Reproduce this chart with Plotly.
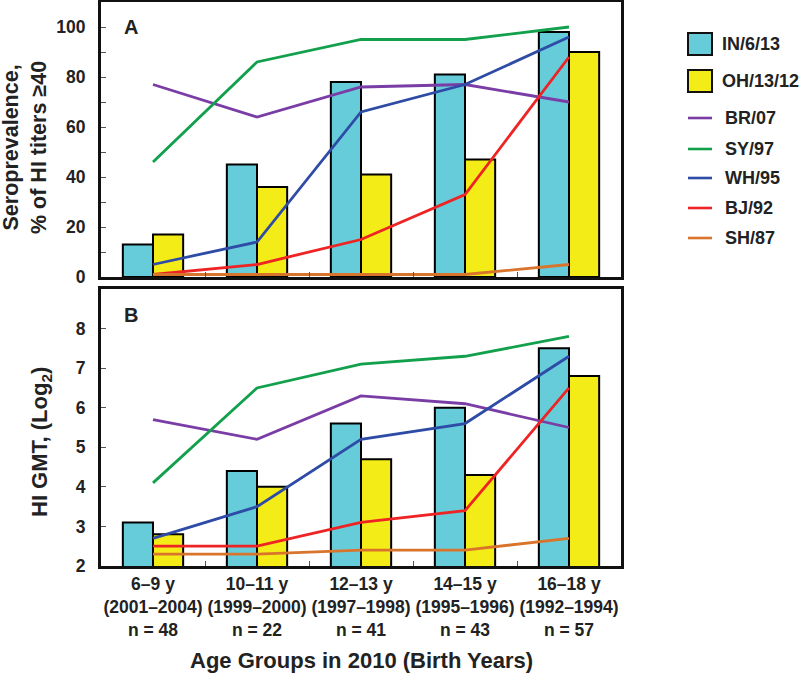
import plotly.graph_objects as go

# ---------------- data ----------------
age_groups = ["6–9 y", "10–11 y", "12–13 y", "14–15 y", "16–18 y"]
birth_years = ["(2001–2004)", "(1999–2000)", "(1997–1998)", "(1995–1996)", "(1992–1994)"]
n_values = [48, 22, 41, 43, 57]

bar_names = ["IN/6/13", "OH/13/12"]
sero_in613 = [13, 45, 78, 81, 98]
sero_oh1312 = [17, 36, 41, 47, 90]
gmt_in613 = [3.1, 4.4, 5.6, 6.0, 7.5]
gmt_oh1312 = [2.8, 4.0, 4.7, 4.3, 6.8]

line_names = ["BR/07", "SY/97", "WH/95", "BJ/92", "SH/87"]
sero_br07 = [77, 64, 76, 77, 70]
sero_sy97 = [46, 86, 95, 95, 100]
sero_wh95 = [5, 14, 66, 77, 96]
sero_bj92 = [1, 5, 15, 33, 88]
sero_sh87 = [1, 1, 1, 1, 5]
gmt_br07 = [5.7, 5.2, 6.3, 6.1, 5.5]
gmt_sy97 = [4.1, 6.5, 7.1, 7.3, 7.8]
gmt_wh95 = [2.7, 3.5, 5.2, 5.6, 7.3]
gmt_bj92 = [2.5, 2.5, 3.1, 3.4, 6.5]
gmt_sh87 = [2.3, 2.3, 2.4, 2.4, 2.7]

sero_ticks = [0, 20, 40, 60, 80, 100]
gmt_ticks = [2, 3, 4, 5, 6, 7, 8]

# ---------------- styles ----------------
W, H = 800, 678
FONT = "Liberation Sans, Arial, Helvetica, sans-serif"
bar_colors = ["#66CCDA", "#F4EC16"]
line_colors = ["#7A3DA6", "#12A04C", "#2E4CA6", "#EE2424", "#D9742C"]

cats = [f"{a}<br>{b}<br>n = {n}" for a, b, n in zip(age_groups, birth_years, n_values)]


def px_x(p):
    return p / W


def px_y(p):
    return 1 - p / H


fig = go.Figure()

sero_bars = [sero_in613, sero_oh1312]
gmt_bars = [gmt_in613, gmt_oh1312]
sero_lines = [sero_br07, sero_sy97, sero_wh95, sero_bj92, sero_sh87]
gmt_lines = [gmt_br07, gmt_sy97, gmt_wh95, gmt_bj92, gmt_sh87]

for name, vals, col in zip(bar_names, sero_bars, bar_colors):
    fig.add_trace(go.Bar(x=cats, y=vals, name=name, marker=dict(color=col, line=dict(color="black", width=2)),
                         xaxis="x", yaxis="y", offsetgroup=name))
for name, vals, col in zip(bar_names, gmt_bars, bar_colors):
    fig.add_trace(go.Bar(x=cats, y=vals, name=name, marker=dict(color=col, line=dict(color="black", width=2)),
                         xaxis="x2", yaxis="y2", offsetgroup=name))
for name, vals, col in zip(line_names, sero_lines, line_colors):
    fig.add_trace(go.Scatter(x=cats, y=vals, name=name, mode="lines", line=dict(color=col, width=2.8),
                             xaxis="x", yaxis="y"))
for name, vals, col in zip(line_names, gmt_lines, line_colors):
    fig.add_trace(go.Scatter(x=cats, y=vals, name=name, mode="lines", line=dict(color=col, width=2.8),
                             xaxis="x2", yaxis="y2"))

xdom = [px_x(101), px_x(621)]
tickfont = dict(family=FONT, size=17.5, color="#222", weight="bold")

common_x = dict(domain=xdom, type="category", tickson="boundaries", ticks="inside", ticklen=5,
                tickwidth=1.2, tickcolor="#555", showline=True, linewidth=3, linecolor="#111",
                mirror=True, showgrid=False, zeroline=False, fixedrange=True, tickangle=0,
                automargin=False)
common_y = dict(ticks="inside", ticklen=5, tickwidth=1.2, tickcolor="#555", showline=True, linewidth=3,
                linecolor="#111", mirror=True, showgrid=False, zeroline=False, tickfont=tickfont,
                ticklabelstandoff=9, automargin=False, fixedrange=True)

fig.update_layout(
    width=W, height=H, margin=dict(l=0, r=0, t=0, b=0),
    paper_bgcolor="white", plot_bgcolor="white", showlegend=False,
    barmode="group", bargap=0.42, bargroupgap=0,
    font=dict(family=FONT, color="#222"),
    xaxis=dict(common_x, anchor="y", showticklabels=False),
    xaxis2=dict(common_x, anchor="y2", showticklabels=True, tickfont=tickfont, ticklabelstandoff=0),
    yaxis=dict(common_y, domain=[px_y(277), px_y(2)], range=[0, 110], tickvals=sero_ticks,
               minor=dict(dtick=10, ticks="inside", ticklen=5, tickwidth=1.2, tickcolor="#555"), anchor="x"),
    yaxis2=dict(common_y, domain=[px_y(566), px_y(289)], range=[2, 9], tickvals=gmt_ticks, anchor="x2"),
)

anns = []


def ann(x, y, text, size, xanchor="center", angle=0):
    anns.append(dict(x=px_x(x), y=px_y(y), xref="paper", yref="paper", text=text, showarrow=False,
                     xanchor=xanchor, yanchor="middle", textangle=angle,
                     font=dict(family=FONT, size=size, color="#222", weight="bold")))


# panel letters
ann(131, 27, "A", 20)
ann(131, 315, "B", 20)
# axis titles
ann(25, 148, "Seroprevalence,<br>% of HI titers ≥40", 21.5, angle=-90)
ann(41, 442, "HI GMT, (Log<sub>2</sub>)", 22, angle=-90)
ann(361, 660, "Age Groups in 2010 (Birth Years)", 22)

# custom legend
shapes = []
bar_leg_y = [44, 81]
for name, col, yc in zip(bar_names, bar_colors, bar_leg_y):
    shapes.append(dict(type="rect", xref="paper", yref="paper", x0=px_x(688), x1=px_x(712),
                       y0=px_y(yc - 11), y1=px_y(yc + 11), fillcolor=col, line=dict(color="#111", width=2)))
    ann(720, yc, name, 18, xanchor="left")
line_leg_y = [118, 149, 178, 208, 238]
for name, col, yc in zip(line_names, line_colors, line_leg_y):
    shapes.append(dict(type="line", xref="paper", yref="paper", x0=px_x(688), x1=px_x(712),
                       y0=px_y(yc), y1=px_y(yc), line=dict(color=col, width=2.6)))
    ann(723, yc, name, 18, xanchor="left")

fig.update_layout(annotations=anns, shapes=shapes)
fig.write_html("out.html", config={"displayModeBar": False},
               post_script="document.body.style.margin='0';document.body.style.overflow='hidden';")
